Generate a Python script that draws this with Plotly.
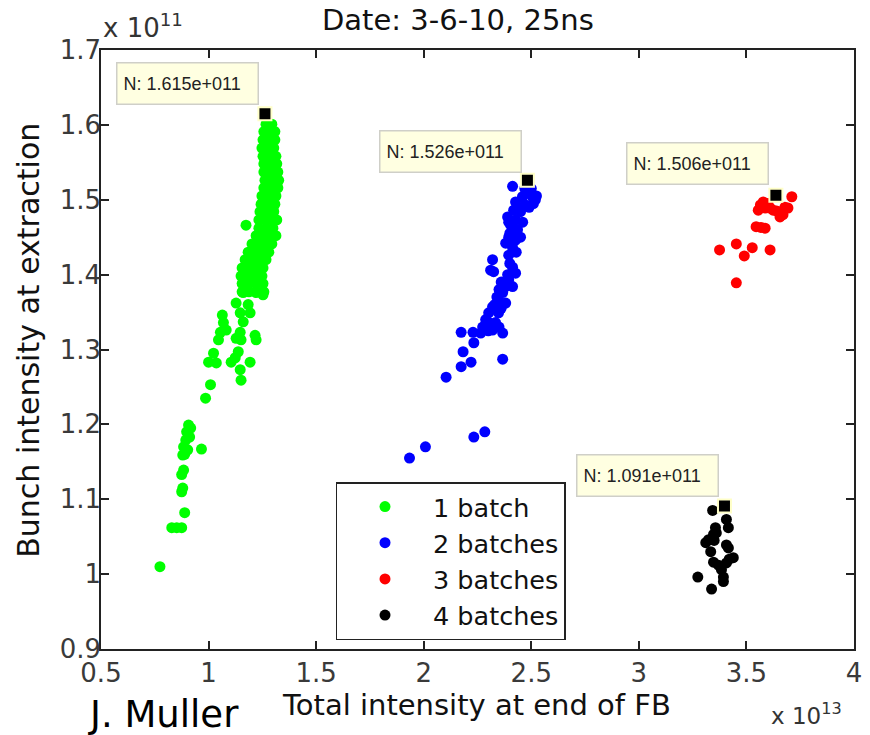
import plotly.graph_objects as go

# ---------------- data (x in 1e13, y in 1e11) ----------------
green_x = [1.267, 1.294,
           1.257, 1.285, 1.308,
           1.253, 1.280, 1.308,
           1.248, 1.276, 1.303,
           1.253, 1.280, 1.313,
           1.257, 1.285, 1.317,
           1.257, 1.290, 1.322,
           1.262, 1.294, 1.326,
           1.257, 1.290, 1.322,
           1.248, 1.280, 1.313,
           1.244, 1.276, 1.308,
           1.239, 1.271, 1.303,
           1.234, 1.267, 1.299, 1.317,
           1.234, 1.267, 1.299,
           1.221, 1.253, 1.285, 1.313,
           1.202, 1.234, 1.267, 1.294,
           1.184, 1.216, 1.248, 1.280,
           1.170, 1.202, 1.234, 1.267,
           1.156, 1.188, 1.221, 1.253,
           1.151, 1.184, 1.216, 1.248,
           1.156, 1.188, 1.221, 1.253,
           1.156, 1.188, 1.221, 1.257,
           1.174,
           1.161, 1.221, 1.253, 1.128, 1.184, 1.147, 1.193, 1.161,
           1.064, 1.069, 1.055, 1.082, 1.046,
           1.147, 1.151, 1.128, 1.216, 1.221,
           1.023, 1.000, 1.036, 1.138, 1.124, 1.105, 1.193,
           1.147, 1.151, 1.009, 0.986,
           0.907, 0.898, 0.894, 0.884, 0.880, 0.912, 0.903, 0.917, 0.889,
           0.967, 0.884, 0.875, 0.880, 0.875, 0.889,
           0.829, 0.852, 0.875, 0.774]
green_y = [1.601, 1.601,
           1.591, 1.591, 1.591,
           1.580, 1.580, 1.580,
           1.569, 1.569, 1.569,
           1.558, 1.558, 1.558,
           1.548, 1.548, 1.548,
           1.537, 1.537, 1.537,
           1.526, 1.526, 1.526,
           1.516, 1.516, 1.516,
           1.505, 1.505, 1.505,
           1.494, 1.494, 1.494,
           1.484, 1.484, 1.484,
           1.473, 1.473, 1.473, 1.473,
           1.462, 1.462, 1.462,
           1.452, 1.452, 1.452, 1.452,
           1.441, 1.441, 1.441, 1.441,
           1.430, 1.430, 1.430, 1.430,
           1.420, 1.420, 1.420, 1.420,
           1.409, 1.409, 1.409, 1.409,
           1.398, 1.398, 1.398, 1.398,
           1.388, 1.388, 1.388, 1.388,
           1.377, 1.377, 1.377, 1.377,
           1.466,
           1.376, 1.376, 1.373, 1.362, 1.360, 1.349, 1.349, 1.337,
           1.346, 1.336, 1.323, 1.326, 1.313,
           1.323, 1.313, 1.315, 1.319, 1.313,
           1.295, 1.283, 1.282, 1.297, 1.289, 1.283, 1.283,
           1.273, 1.259, 1.253, 1.235,
           1.199, 1.190, 1.179, 1.170, 1.159, 1.183, 1.166, 1.195, 1.160,
           1.167, 1.139, 1.133, 1.115, 1.110, 1.082,
           1.062, 1.062, 1.062, 1.010]

blue_x = [2.413, 2.487, 2.459, 2.505, 2.519, 2.524, 2.510,
          2.427, 2.473, 2.418, 2.450, 2.490,
          2.390, 2.427, 2.404, 2.436, 2.460,
          2.395, 2.427, 2.381, 2.413, 2.395,
          2.320, 2.311, 2.325,
          2.413, 2.427, 2.395, 2.381, 2.367, 2.413,
          2.348, 2.320, 2.381, 2.302, 2.348, 2.288, 2.334, 2.274, 2.320, 2.367, 2.265,
          2.174, 2.229, 2.233, 2.183, 2.220, 2.174, 2.367, 2.104,
          2.284, 2.233, 2.008, 1.934,
          2.395, 2.400, 2.430, 2.400, 2.390, 2.360, 2.350, 2.340, 2.360, 2.330,
          2.310, 2.300, 2.350, 2.285, 2.440, 2.470, 2.500, 2.450, 2.415]
blue_y = [1.518, 1.509, 1.504, 1.504, 1.500, 1.505, 1.495,
          1.497, 1.493, 1.486, 1.484, 1.490,
          1.477, 1.473, 1.466, 1.460, 1.470,
          1.450, 1.446, 1.442, 1.436, 1.426,
          1.420, 1.406, 1.404,
          1.410, 1.402, 1.393, 1.384, 1.376, 1.384,
          1.366, 1.357, 1.362, 1.349, 1.349, 1.340, 1.336, 1.330, 1.326, 1.322, 1.322,
          1.323, 1.323, 1.309, 1.297, 1.283, 1.277, 1.287, 1.263,
          1.190, 1.183, 1.170, 1.155,
          1.470, 1.455, 1.430, 1.415, 1.400, 1.390, 1.380, 1.370, 1.355, 1.360,
          1.335, 1.325, 1.330, 1.330, 1.490, 1.515, 1.515, 1.450, 1.450]

red_x = [3.711, 3.578, 3.555, 3.587, 3.610, 3.624, 3.679, 3.693, 3.661, 3.656,
         3.670, 3.545, 3.587, 3.375, 3.453, 3.527, 3.610, 3.490, 3.453,
         3.600, 3.640, 3.565, 3.567]
red_y = [1.504, 1.497, 1.486, 1.489, 1.489, 1.486, 1.490, 1.489, 1.484, 1.477,
         1.480, 1.464, 1.462, 1.433, 1.441, 1.436, 1.433, 1.425, 1.389,
         1.495, 1.485, 1.493, 1.463]

black_x = [3.343, 3.407, 3.416, 3.356, 3.347, 3.324, 3.311, 3.407, 3.416, 3.334,
           3.347, 3.370, 3.439, 3.407, 3.384, 3.393, 3.393, 3.274, 3.338,
           3.360, 3.350, 3.420, 3.380]
black_y = [1.085, 1.073, 1.062, 1.062, 1.053, 1.046, 1.042, 1.039, 1.035, 1.030,
           1.016, 1.012, 1.022, 1.015, 1.006, 0.996, 0.990, 0.996, 0.980,
           1.055, 1.045, 1.020, 1.010]

series_names = ["1 batch", "2 batches", "3 batches", "4 batches"]
series_colors = ["#00FF00", "#0000FF", "#FF0000", "#000000"]

tip_x = [1.262, 2.482, 3.637, 3.398]
tip_y = [1.615, 1.526, 1.506, 1.091]
tip_labels = ["N: 1.615e+011", "N: 1.526e+011", "N: 1.506e+011", "N: 1.091e+011"]
tip_box_x = [0.571, 1.791, 2.942, 2.708]
tip_box_y = [1.684, 1.593, 1.577, 1.161]

x_ticks = [0.5, 1, 1.5, 2, 2.5, 3, 3.5, 4]
x_ticklabels = ["0.5", "1", "1.5", "2", "2.5", "3", "3.5", "4"]
y_ticks = [0.9, 1.0, 1.1, 1.2, 1.3, 1.4, 1.5, 1.6, 1.7]
y_ticklabels = ["0.9", "1", "1.1", "1.2", "1.3", "1.4", "1.5", "1.6", "1.7"]

# ---------------- figure ----------------
fig = go.Figure()
all_x = [green_x, blue_x, red_x, black_x]
all_y = [green_y, blue_y, red_y, black_y]
for xs, ys, name, col in zip(all_x, all_y, series_names, series_colors):
    fig.add_trace(go.Scatter(x=xs, y=ys, mode="markers", name=name,
                             marker=dict(symbol="circle", size=11, color=col,
                                         line=dict(width=0))))

fig.add_trace(go.Scatter(x=tip_x, y=tip_y, mode="markers", showlegend=False,
                         marker=dict(symbol="square", size=13, color="black",
                                     line=dict(color="#FFFFC8", width=2))))

TXT = "#111111"
for bx, by, lab in zip(tip_box_x, tip_box_y, tip_labels):
    fig.add_annotation(x=bx, y=by, xref="x", yref="y", xanchor="left", yanchor="top",
                       text=lab, showarrow=False, align="left",
                       width=128, height=28, borderpad=6, borderwidth=1.5,
                       bordercolor="#CFCFC8", bgcolor="#FFFFE1",
                       font=dict(family="Liberation Sans", size=18, color="#222"))

L, R, T, B = 101, 8, 50, 86
W, H = 870, 735
pw, ph = W - L - R, H - T - B


def px(xp):
    return (xp - L) / pw


def py(yp):
    return (H - B - yp) / ph


fig.add_annotation(x=px(462), y=py(20), xref="paper", yref="paper", showarrow=False,
                   text="Date: 3-6-10, 25ns", xanchor="center", yanchor="middle",
                   font=dict(family="DejaVu Sans", size=29, color=TXT))
fig.add_annotation(x=px(101), y=py(26), xref="paper", yref="paper", showarrow=False,
                   text="x 10<sup>11</sup>", xanchor="left", yanchor="middle",
                   font=dict(family="DejaVu Sans", size=26, color="#333"))
fig.add_annotation(x=px(776), y=py(714), xref="paper", yref="paper", showarrow=False,
                   text="x 10<sup>13</sup>", xanchor="left", yanchor="middle",
                   font=dict(family="DejaVu Sans", size=23, color="#333"))
fig.add_annotation(x=px(480), y=py(705), xref="paper", yref="paper", showarrow=False,
                   text="Total intensity at end of FB", xanchor="center", yanchor="middle",
                   font=dict(family="DejaVu Sans", size=29, color=TXT))
fig.add_annotation(x=px(28), y=py(340), xref="paper", yref="paper", showarrow=False,
                   text="Bunch intensity at extraction", textangle=-90,
                   xanchor="center", yanchor="middle",
                   font=dict(family="DejaVu Sans", size=30, color=TXT))
fig.add_annotation(x=px(164), y=py(714), xref="paper", yref="paper", showarrow=False,
                   text="J. Muller", xanchor="center", yanchor="middle",
                   font=dict(family="DejaVu Sans", size=37, color="#000"))

axis_common = dict(ticks="inside", ticklen=8, tickwidth=1.5, tickcolor="#222",
                   showline=True, linecolor="#222", linewidth=1.5, mirror="ticks",
                   showgrid=False, zeroline=False,
                   tickfont=dict(family="DejaVu Sans", size=26, color="#3a3a3a"))

fig.update_layout(
    width=W, height=H,
    margin=dict(l=L, r=R, t=T, b=B),
    paper_bgcolor="white", plot_bgcolor="white",
    xaxis=dict(range=[0.5, 4], tickvals=x_ticks, ticktext=x_ticklabels,
               ticklabelstandoff=0, **axis_common),
    yaxis=dict(range=[0.9, 1.7], tickvals=y_ticks, ticktext=y_ticklabels,
               ticklabelstandoff=-7, **axis_common),
    legend=dict(x=px(338), y=py(482), xanchor="left", yanchor="top",
                bgcolor="white", bordercolor="#222", borderwidth=1.5,
                itemwidth=86,
                font=dict(family="DejaVu Sans", size=25.5, color=TXT)),
)

fig.write_html("out.html")
